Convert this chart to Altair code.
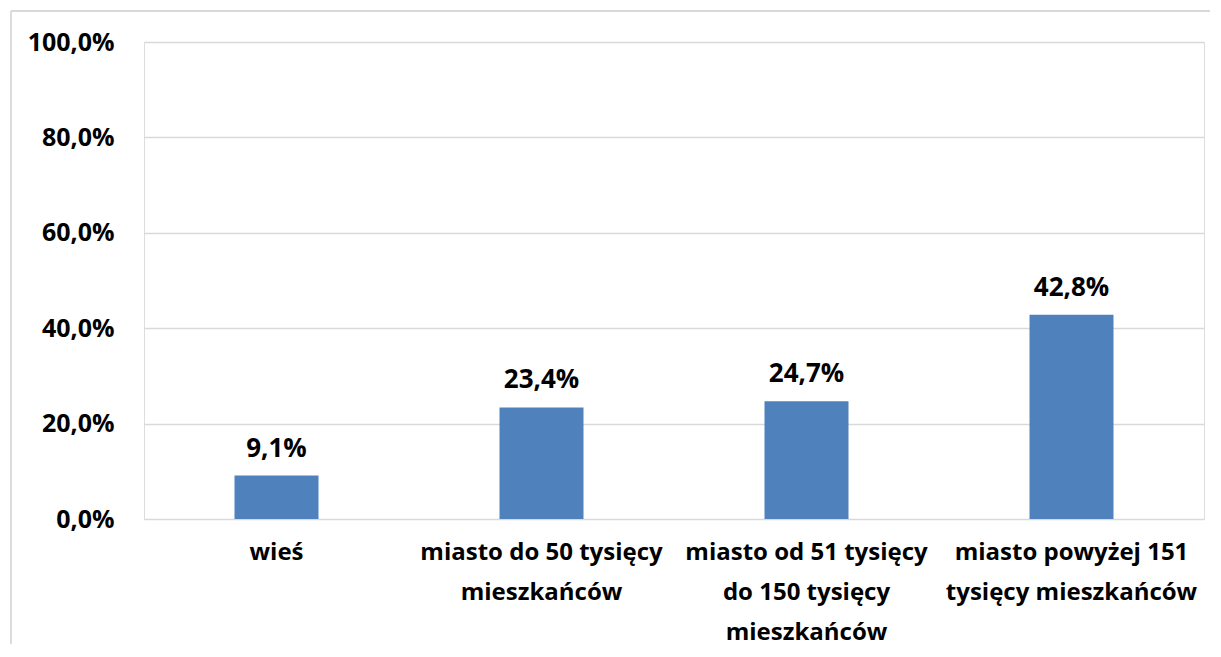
import altair as alt
import pandas as pd

categories = [
    "wieś",
    "miasto do 50 tysięcy\nmieszkańców",
    "miasto od 51 tysięcy\ndo 150 tysięcy\nmieszkańców",
    "miasto powyżej 151\ntysięcy mieszkańców",
]
values = [0.091, 0.234, 0.247, 0.428]
y_ticks = [0, 0.2, 0.4, 0.6, 0.8, 1.0]

df = pd.DataFrame({"category": categories, "value": values})

FONT = "Open Sans"
BAR = "#4F81BD"
GRID = "#D9D9D9"

x_enc = alt.X(
    "category:N",
    sort=categories,
    title=None,
    scale=alt.Scale(paddingInner=0, paddingOuter=0),
    axis=alt.Axis(
        labelAngle=0,
        labelExpr="split(datum.label, '\\n')",
        labelFont=FONT,
        labelFontSize=24,
        labelFontWeight="bold",
        labelColor="#000000",
        labelLineHeight=40,
        labelPadding=21,
        labelLimit=0,
        ticks=False,
        domain=False,
        grid=False,
    ),
)
y_enc = alt.Y(
    "value:Q",
    title=None,
    scale=alt.Scale(domain=[0, 1], nice=False),
    axis=alt.Axis(
        values=y_ticks,
        labelExpr="replace(format(datum.value, '.1%'), '.', ',')",
        labelFont=FONT,
        labelFontSize=25,
        labelFontWeight="bold",
        labelColor="#000000",
        labelPadding=30,
        ticks=False,
        domain=False,
        grid=True,
        gridColor=GRID,
        gridWidth=1.3,
    ),
)

base = alt.Chart(df)

bars = base.mark_bar(color=BAR, width=alt.RelativeBandSize(0.317)).encode(x=x_enc, y=y_enc)

labels = (
    base.transform_calculate(lbl="replace(format(datum.value, '.1%'), '.', ',')")
    .mark_text(
        font=FONT,
        fontSize=26,
        fontWeight="bold",
        color="#000000",
        baseline="alphabetic",
        dy=-19,
    )
    .encode(x=alt.X("category:N", sort=categories), y="value:Q", text="lbl:N")
)

frame = alt.Data(values=[{}])
top_line = (
    alt.Chart(frame)
    .mark_rule(color=GRID, strokeWidth=1.8)
    .encode(x=alt.value(-133), x2=alt.value(1066), y=alt.value(-31))
)
left_line = (
    alt.Chart(frame)
    .mark_rule(color=GRID, strokeWidth=1.8)
    .encode(x=alt.value(-133), y=alt.value(-31), y2=alt.value(602))
)

chart = (
    alt.layer(top_line, left_line, bars, labels)
    .properties(width=1060, height=477, padding={"left": 2, "top": 2, "right": 2, "bottom": 2})
    .configure_view(stroke=None)
    .configure(background="white")
)

chart.save("out.html", embed_options={"renderer": "svg", "actions": False})
